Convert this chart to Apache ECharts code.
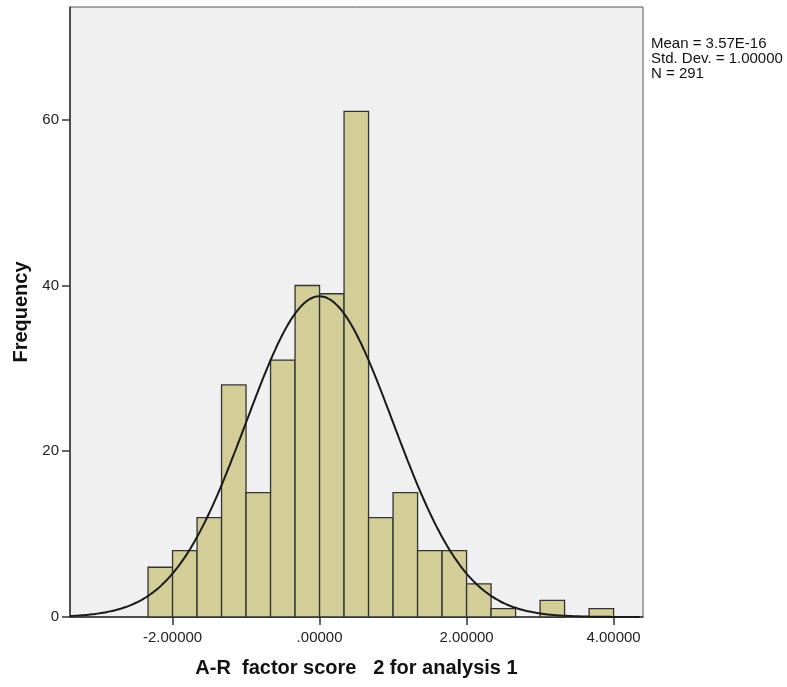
<!DOCTYPE html>
<html>
<head>
<meta charset="utf-8">
<script src="https://cdn.jsdelivr.net/npm/echarts@6/dist/echarts.min.js"></script>
<style>
  html, body { margin: 0; padding: 0; background: #fff; }
  #container { width: 787px; height: 687px; }
</style>
</head>
<body>
<div id="container"></div>
<script>
// histogram bins (width 1/3), counts
var binStarts = [-7, -6, -5, -4, -3, -2, -1, 0, 1, 2, 3, 4, 5, 6, 7, 8, 9, 10, 11].map(function (k) { return k / 3; });
var counts = [6, 8, 12, 28, 15, 31, 40, 39, 61, 12, 15, 8, 8, 4, 1, 0, 2, 0, 1];
var binWidth = 1 / 3;
var xTicks = [-2, 0, 2, 4];
var yTicks = [0, 20, 40, 60];
var statLines = ["Mean = 3.57E-16", "Std. Dev. = 1.00000", "N = 291"];
var MEAN = 0, SD = 1, N = 291;
var xMin = -3.395, xMax = 4.40, yMax = 73.6;

var binData = binStarts.map(function (s, i) { return [s, s + binWidth, counts[i]]; });

// fitted normal curve from the stated mean / sd / N
var curve = [];
for (var x = xMin; x <= xMax + 1e-9; x += 0.05) {
  var z = (x - MEAN) / SD;
  curve.push([x, N * binWidth * Math.exp(-0.5 * z * z) / (SD * Math.sqrt(2 * Math.PI))]);
}

var dom = document.getElementById("container");
var myChart = echarts.init(dom, null, { renderer: "canvas" });

var option = {
  animation: false,
  textStyle: { fontFamily: "Liberation Sans" },
  grid: {
    show: true,
    left: 70,
    right: 144,
    top: 7,
    bottom: 70,
    backgroundColor: "#f0f0f0",
    borderColor: "#555",
    borderWidth: 1
  },
  xAxis: {
    type: "value",
    min: xMin,
    max: xMax,
    name: "A-R  factor score   2 for analysis 1",
    nameLocation: "middle",
    nameGap: 41,
    nameTextStyle: { fontSize: 20, fontWeight: "bold", color: "#111", fontFamily: "Liberation Sans" },
    axisLine: { show: true, onZero: false, lineStyle: { color: "#333", width: 1.5 } },
    axisTick: { show: true, length: 8, customValues: xTicks, lineStyle: { color: "#333", width: 1.5 } },
    axisLabel: {
      customValues: xTicks,
      margin: 13,
      fontSize: 15,
      color: "#222",
      formatter: function (v) { return v === 0 ? ".00000" : v.toFixed(5); }
    },
    splitLine: { show: false }
  },
  yAxis: {
    type: "value",
    min: 0,
    max: yMax,
    name: "Frequency",
    nameLocation: "middle",
    nameGap: 39,
    nameTextStyle: { fontSize: 20, fontWeight: "bold", color: "#111", fontFamily: "Liberation Sans" },
    axisLine: { show: true, onZero: false, lineStyle: { color: "#333", width: 1.5 } },
    axisTick: { show: true, length: 8, customValues: yTicks, lineStyle: { color: "#333", width: 1.5 } },
    axisLabel: { customValues: yTicks, margin: 11, fontSize: 15, color: "#222" },
    splitLine: { show: false }
  },
  graphic: statLines.map(function (t, i) {
    return {
      type: "text",
      left: 651,
      top: 36 + i * 15,
      style: { text: t, fontSize: 15, fill: "#111", fontFamily: "Liberation Sans" }
    };
  }),
  series: [
    {
      type: "custom",
      data: binData,
      encode: { x: [0, 1], y: 2 },
      renderItem: function (params, api) {
        if (api.value(2) <= 0) return null;
        var p0 = api.coord([api.value(0), api.value(2)]);
        var p1 = api.coord([api.value(1), 0]);
        return {
          type: "rect",
          shape: { x: p0[0], y: p0[1], width: p1[0] - p0[0], height: p1[1] - p0[1] },
          style: { fill: "#d3ce97", stroke: "#333", lineWidth: 1.3 }
        };
      },
      z: 2
    },
    {
      type: "line",
      data: curve,
      showSymbol: false,
      smooth: true,
      lineStyle: { color: "#1a1a1a", width: 2 },
      z: 3
    }
  ]
};

myChart.setOption(option);
window.addEventListener("resize", myChart.resize);
</script>
</body>
</html>
